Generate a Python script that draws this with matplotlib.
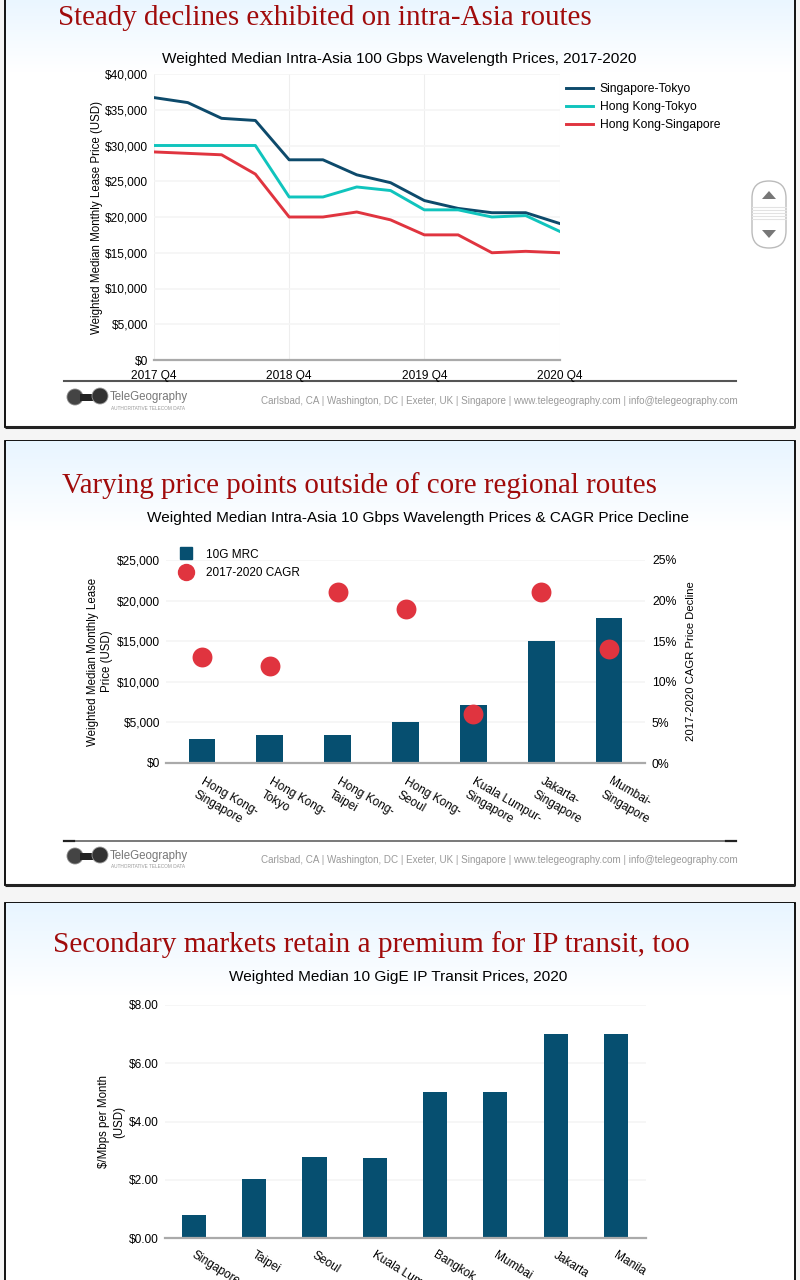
import numpy as np
import matplotlib
matplotlib.use("Agg")
import matplotlib.pyplot as plt
from matplotlib.lines import Line2D
from matplotlib.patches import Circle, FancyBboxPatch, Polygon, Rectangle
from matplotlib.ticker import FixedLocator, FuncFormatter
from matplotlib.transforms import ScaledTranslation

W, H = 800, 1280
SANS = "Liberation Sans"
SERIF = "Liberation Serif"
NAVY = "#064f70"
TEAL = "#10c4bd"
DEEP = "#0d4a6b"
RED = "#e0343f"

# ---- data ----
quarters = ["2017 Q4", "", "", "", "2018 Q4", "", "", "", "2019 Q4", "", "", "", "2020 Q4"]
sing_tokyo = [36700, 36000, 33800, 33500, 28000, 28000, 25900, 24800, 22300, 21200, 20600, 20600, 19100]
hk_tokyo = [30000, 30000, 30000, 30000, 22800, 22800, 24200, 23700, 21000, 21000, 20000, 20200, 18000]
hk_sing = [29100, 28900, 28700, 26000, 20000, 20000, 20700, 19600, 17500, 17500, 15000, 15200, 15000]

routes = ["Hong Kong-\nSingapore", "Hong Kong-\nTokyo", "Hong Kong-\nTaipei", "Hong Kong-\nSeoul",
          "Kuala Lumpur-\nSingapore", "Jakarta-\nSingapore", "Mumbai-\nSingapore"]
mrc_10g = [2900, 3500, 3400, 5100, 7200, 15000, 17900]
cagr = [13, 12, 21, 19, 6, 21, 14]

cities = ["Singapore", "Taipei", "Seoul", "Kuala Lumpur", "Bangkok", "Mumbai", "Jakarta", "Manila"]
transit = [0.80, 2.03, 2.77, 2.74, 5.03, 5.00, 7.00, 7.00]

titles = ["Steady declines exhibited on intra-Asia routes",
          "Varying price points outside of core regional routes",
          "Secondary markets retain a premium for IP transit, too"]
subtitles = ["Weighted Median Intra-Asia 100 Gbps Wavelength Prices, 2017-2020",
             "Weighted Median Intra-Asia 10 Gbps Wavelength Prices & CAGR Price Decline",
             "Weighted Median 10 GigE IP Transit Prices, 2020"]
contact = ("Carlsbad, CA | Washington, DC | Exeter, UK | Singapore | "
           "www.telegeography.com | info@telegeography.com")

fig = plt.figure(figsize=(W / 100, H / 100), dpi=100, facecolor="#f5f5f5")
bg = fig.add_axes([0, 0, 1, 1], zorder=-1)


def px_axes(left, top, right, bottom):
    ax = fig.add_axes([left / W, 1 - bottom / H, (right - left) / W, (bottom - top) / H])
    ax.patch.set_visible(False)
    for s in ax.spines.values():
        s.set_visible(False)
    return ax


def style(ax, grid_x=False):
    ax.grid(axis="y", color="#f5f5f5", lw=1.2)
    if grid_x:
        ax.grid(axis="x", color="#eeeeee", lw=0.8)
    ax.set_axisbelow(True)
    ax.spines["bottom"].set_visible(True)
    ax.spines["bottom"].set_color("#aaaaaa")
    ax.spines["bottom"].set_linewidth(1.6)
    ax.tick_params(length=0, labelsize=8.6)
    ax.tick_params(axis="y", pad=4.5)
    ax.tick_params(axis="x", pad=7)
    for t in ax.get_xticklabels() + ax.get_yticklabels():
        t.set_fontfamily(SANS)


def slant_labels(ax, dx_px, angle):
    shift = ScaledTranslation(dx_px / 100, 0, fig.dpi_scale_trans)
    for t in ax.get_xticklabels():
        t.set(rotation=-angle, ha="left", va="top", rotation_mode="anchor", family=SANS, linespacing=1.4)
        t.set_transform(t.get_transform() + shift)


# ---- panels ----
grad = np.linspace(0, 1, 256).reshape(-1, 1)
top_c = np.array([232, 245, 255]) / 255
grad_img = (top_c[None, None, :] * (1 - grad[..., None]) + grad[..., None]).astype(float)
for top, bottom, g_top, g_bot in [(-8, 427, -8, 72), (441, 885, 441, 530), (903, 1300, 903, 995)]:
    bg.add_patch(Rectangle((5, top), 790, bottom - top, fc="white", ec="black", lw=1.3, zorder=1))
    bg.imshow(grad_img, extent=(6, 794, g_bot, g_top), aspect="auto", zorder=1.5)
for y in (426.5, 885):
    bg.plot([5, 795], [y, y], color="#222222", lw=2.2, zorder=2, solid_capstyle="butt")


def title_block(title, xc_title, y_title, size, sub, xc_sub, y_sub, sub_size):
    bg.text(xc_title, y_title, title, family=SERIF, fontsize=size, color="#a00b0b",
            ha="center", va="center", zorder=3)
    bg.text(xc_sub, y_sub, sub, family=SANS, fontsize=sub_size, color="black",
            ha="center", va="center", zorder=3)


title_block(titles[0], 325, 18, 20.9, subtitles[0], 399, 59, 11.1)
title_block(titles[1], 359, 486, 20.9, subtitles[1], 418, 518, 11.1)
title_block(titles[2], 371, 945, 21.1, subtitles[2], 398, 977, 11.1)


def footer(y_rule, y_mid, ends=False):
    bg.plot([64, 736], [y_rule, y_rule], color="#555555", lw=1.1 if ends else 1.5, zorder=3)
    if ends:
        for a, b in [(64, 74), (726, 736)]:
            bg.plot([a, b], [y_rule - 0.5, y_rule - 0.5], color="#222222", lw=1.6, zorder=3)
    bg.add_patch(Circle((75, y_mid - 1), 8, fc="#444444", ec="#888888", lw=0.6, zorder=3))
    bg.add_patch(Rectangle((80, y_mid - 4), 18, 7, fc="#222222", ec="none", zorder=3))
    bg.add_patch(Circle((100, y_mid - 2), 8, fc="#333333", ec="#999999", lw=0.6, zorder=3))
    bg.text(110, y_mid - 1, "TeleGeography", family=SANS, fontsize=8.3, color="#777777", va="center", zorder=3)
    bg.text(111, y_mid + 10, "AUTHORITATIVE TELECOM DATA", family=SANS, fontsize=3.4, color="#999999",
            va="center", zorder=3)
    bg.text(738, y_mid + 3, contact, family=SANS, fontsize=7.1, color="#999999", ha="right", va="center", zorder=3)


footer(381, 398)
footer(841, 857, ends=True)

# scroll widget
bg.add_patch(FancyBboxPatch((752 + 17, 181 + 17), 0, 33, boxstyle="round,pad=17,rounding_size=17",
                            fc="white", ec="#bbbbbb", lw=1.0, zorder=3))
for y in (207, 210, 213, 216, 219):
    bg.plot([752, 786], [y, y], color="#e2e2e2", lw=0.8, zorder=4)
bg.add_patch(Polygon([(762, 199), (776, 199), (769, 191)], fc="#777777", ec="none", zorder=4))
bg.add_patch(Polygon([(762, 230), (776, 230), (769, 238)], fc="#777777", ec="none", zorder=4))

bg.set_xlim(0, W)
bg.set_ylim(H, 0)
bg.axis("off")

# ---- chart 1 ----
ax1 = px_axes(154, 74, 559.5, 360)
x1 = np.arange(len(quarters))
ln1, = ax1.plot(x1, sing_tokyo, color=DEEP, lw=2.1, label="Singapore-Tokyo")
ln2, = ax1.plot(x1, hk_tokyo, color=TEAL, lw=2.1, label="Hong Kong-Tokyo")
ln3, = ax1.plot(x1, hk_sing, color=RED, lw=2.1, label="Hong Kong-Singapore")
ax1.set_xlim(0, 12)
ax1.set_ylim(0, 40000)
ax1.yaxis.set_major_locator(FixedLocator(range(0, 40001, 5000)))
ax1.yaxis.set_major_formatter(FuncFormatter(lambda v, _: f"${v:,.0f}"))
ax1.set_xticks([i for i, q in enumerate(quarters) if q], [q for q in quarters if q])
style(ax1, grid_x=True)
ax1.set_ylabel("Weighted Median Monthly Lease Price (USD)", family=SANS, fontsize=8.3, labelpad=1)
ax1.legend(handles=[ln1, ln2, ln3], loc="upper left", bbox_to_anchor=(555 / W, 1 - 72.5 / H),
           bbox_transform=fig.transFigure, frameon=False,
           prop={"family": SANS, "size": 8.7}, handlelength=2.25, handletextpad=0.55, labelspacing=0.48)

# ---- chart 2 ----
ax2 = px_axes(166, 560, 645, 763)
x2 = np.arange(len(routes))
ax2.bar(x2, mrc_10g, width=0.395, color=NAVY, label="10G MRC")
ax2.set_xlim(-0.53, 6.53)
ax2.set_ylim(0, 25000)
ax2.yaxis.set_major_locator(FixedLocator(range(0, 25001, 5000)))
ax2.yaxis.set_major_formatter(FuncFormatter(lambda v, _: f"${v:,.0f}"))
ax2.set_xticks(x2, routes)
style(ax2)
ax2.tick_params(axis="x", pad=9)
slant_labels(ax2, 3, 30)
ax2.set_ylabel("Weighted Median Monthly Lease\nPrice (USD)", family=SANS, fontsize=8.3, labelpad=2.5, linespacing=1.3)

ax2r = ax2.twinx()
ax2r.patch.set_visible(False)
for s in ax2r.spines.values():
    s.set_visible(False)
ax2r.scatter(x2, cagr, s=205, color=RED, zorder=5, label="2017-2020 CAGR", linewidths=0)
ax2r.set_ylim(0, 25)
ax2r.set_yticks(range(0, 26, 5), [f"{v}%" for v in range(0, 26, 5)])
ax2r.tick_params(length=0, labelsize=8.8, pad=5)
for t in ax2r.get_yticklabels():
    t.set_fontfamily(SANS)
ax2r.set_ylabel("2017-2020 CAGR Price Decline", family=SANS, fontsize=8.1, labelpad=7)
handles2 = [Line2D([], [], ls="", marker="s", ms=9, color=NAVY),
            Line2D([], [], ls="", marker="o", ms=11.5, color=RED)]
ax2r.legend(handles2, ["10G MRC", "2017-2020 CAGR"], loc="upper left", bbox_to_anchor=(164 / W, 1 - 538 / H),
            bbox_transform=fig.transFigure, frameon=False, prop={"family": SANS, "size": 8.5},
            handletextpad=0.7, labelspacing=0.58)

# ---- chart 3 ----
ax3 = px_axes(165, 1005, 646, 1238)
x3 = np.arange(len(cities))
ax3.bar(x3, transit, width=0.4, color=NAVY)
ax3.set_xlim(-0.48, 7.5)
ax3.set_ylim(0, 8)
ax3.yaxis.set_major_locator(FixedLocator(range(0, 9, 2)))
ax3.yaxis.set_major_formatter(FuncFormatter(lambda v, _: f"${v:.2f}"))
ax3.set_xticks(x3, cities)
style(ax3)
ax3.tick_params(axis="x", pad=8)
slant_labels(ax3, 2, 32)
ax3.set_ylabel("$/Mbps per Month\n(USD)", family=SANS, fontsize=8.3, labelpad=3, linespacing=1.3)

fig.savefig("out.png", dpi=100, facecolor=fig.get_facecolor())
